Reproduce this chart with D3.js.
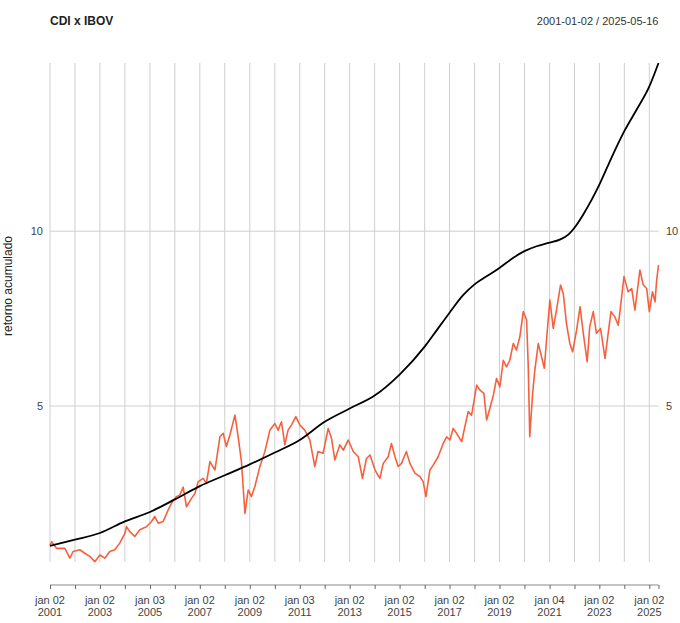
<!DOCTYPE html>
<html>
<head>
<meta charset="utf-8">
<script src="https://cdn.jsdelivr.net/npm/d3@7"></script>
<style>
  body { margin: 0; background: #fff; }
  text { font-family: "Liberation Sans", Arial, sans-serif; }
</style>
</head>
<body>
<script>
// CDI - smooth accumulated return
var cdiDates = ["2001-01-02","2002-01-02","2003-01-02","2004-01-02","2005-01-03","2006-01-02",
  "2007-01-02","2008-01-02","2009-01-02","2010-01-04","2011-01-03","2012-01-02","2013-01-02",
  "2014-01-02","2015-01-02","2016-01-04","2016-05-08","2017-01-02","2017-07-19","2018-01-02",
  "2018-06-28","2019-01-02","2019-07-23","2020-01-02","2020-06-28","2021-01-04","2021-06-02",
  "2021-10-05","2022-01-03","2022-05-12","2023-01-02","2023-06-28","2024-01-02","2024-07-01",
  "2025-01-02","2025-05-16"]
var cdiValues = [1.00,1.18,1.37,1.70,1.97,2.33,
  2.71,3.02,3.33,3.67,4.03,4.55,4.93,
  5.30,5.90,6.70,7.03,7.67,8.17,8.48,
  8.71,8.95,9.24,9.43,9.57,9.67,9.76,
  9.90,10.10,10.48,11.33,12.10,12.86,13.48,
  14.14,14.81]

// IBOV - accumulated return
var ibovDates = ["2001-01-02","2001-01-26","2001-04-08","2001-08-08","2001-10-19","2001-12-06",
  "2002-03-14","2002-05-26","2002-08-07","2002-10-19","2003-01-02","2003-03-14","2003-05-26",
  "2003-08-07","2003-10-19","2004-01-02","2004-01-26","2004-03-14","2004-05-26","2004-08-07",
  "2004-11-13","2005-01-26","2005-03-14","2005-05-04","2005-07-16","2005-09-27","2005-11-13",
  "2006-01-26","2006-03-17","2006-05-04","2006-06-21","2006-09-02","2006-10-23","2006-12-10",
  "2007-02-20","2007-04-08","2007-05-30","2007-08-11","2007-10-23","2007-12-10","2008-01-26",
  "2008-03-17","2008-05-30","2008-07-16","2008-09-02","2008-10-23","2008-12-10","2009-01-26",
  "2009-03-17","2009-05-30","2009-08-11","2009-10-23","2010-01-04","2010-02-20","2010-04-11",
  "2010-05-30","2010-07-16","2010-09-05","2010-11-06","2011-01-04","2011-03-17","2011-05-30",
  "2011-08-11","2011-09-27","2011-12-10","2012-02-23","2012-04-11","2012-05-30","2012-08-11",
  "2012-10-01","2012-12-13","2013-02-23","2013-05-08","2013-07-08","2013-09-05","2013-10-27",
  "2014-01-08","2014-03-20","2014-05-08","2014-07-19","2014-09-05","2014-10-27","2014-12-13",
  "2015-01-30","2015-04-11","2015-06-02","2015-08-14","2015-10-27","2015-12-13","2016-01-23",
  "2016-03-20","2016-05-08","2016-07-19","2016-10-01","2016-11-20","2017-01-08","2017-02-23",
  "2017-04-15","2017-06-28","2017-08-14","2017-10-01","2017-11-20","2018-02-03","2018-03-20",
  "2018-05-19","2018-06-28","2018-08-14","2018-10-05","2018-11-20","2019-01-08","2019-02-27",
  "2019-04-15","2019-06-02","2019-07-23","2019-09-08","2019-10-27","2019-12-16","2020-02-03",
  "2020-02-27","2020-03-20","2020-05-01","2020-06-02","2020-07-23","2020-09-08","2020-10-19",
  "2020-11-20","2021-01-08","2021-02-27","2021-04-15","2021-06-13","2021-07-23","2021-09-08",
  "2021-10-27","2021-12-06","2022-02-03","2022-03-26","2022-05-12","2022-07-08","2022-08-14",
  "2022-10-05","2022-11-20","2023-01-19","2023-03-26","2023-05-01","2023-06-21","2023-08-17",
  "2023-10-05","2023-10-30","2023-12-28","2024-02-27","2024-04-19","2024-06-05","2024-08-17",
  "2024-10-05","2024-11-24","2025-01-02","2025-02-17","2025-03-26","2025-04-19","2025-05-16"]
var ibovValues = [1.02,1.12,0.93,0.93,0.65,0.84,
  0.89,0.79,0.70,0.55,0.74,0.65,0.84,
  0.89,1.08,1.36,1.55,1.41,1.27,1.46,
  1.55,1.70,1.84,1.65,1.70,2.03,2.22,
  2.41,2.46,2.68,2.12,2.36,2.50,2.84,
  2.93,2.79,3.41,3.17,4.12,4.22,3.84,
  4.17,4.74,4.12,3.41,1.93,2.60,2.41,
  2.70,3.27,3.70,4.31,4.50,4.31,4.55,
  3.89,4.31,4.46,4.70,4.46,4.31,4.03,
  3.27,3.70,3.65,4.36,4.08,3.46,3.89,
  3.74,4.03,3.70,3.55,2.93,3.50,3.60,
  3.17,2.93,3.36,3.55,3.93,3.55,3.27,
  3.36,3.70,3.36,3.08,2.98,2.84,2.41,
  3.17,3.31,3.55,3.93,4.12,4.03,4.36,
  4.22,3.98,4.41,4.84,4.74,5.60,5.46,
  5.36,4.60,4.93,5.31,5.79,5.55,6.31,
  6.12,6.31,6.79,6.60,6.98,7.70,7.46,
  6.12,4.12,5.36,6.03,6.79,6.41,6.08,
  6.89,8.03,7.22,7.74,8.46,8.22,7.36,
  6.79,6.55,7.17,7.84,7.08,6.27,7.27,
  7.70,7.08,7.22,6.36,6.93,7.70,7.55,
  7.31,7.70,8.70,8.27,8.36,7.74,8.89,
  8.46,8.36,7.70,8.27,7.98,8.60,9.03]

// x axis ticks (first trading day of each year) and y ticks
var tickDates = ["2001-01-02","2002-01-02","2003-01-02","2004-01-02","2005-01-03","2006-01-02",
  "2007-01-02","2008-01-02","2009-01-02","2010-01-04","2011-01-03","2012-01-02","2013-01-02",
  "2014-01-02","2015-01-02","2016-01-04","2017-01-02","2018-01-02","2019-01-02","2020-01-02",
  "2021-01-04","2022-01-03","2023-01-02","2024-01-02","2025-01-02"]
var yTicks = [5, 10]

var parse = d3.timeParse("%Y-%m-%d")
var ptBR = d3.timeFormatLocale({
  dateTime: "%d/%m/%Y %H:%M:%S", date: "%d/%m/%Y", time: "%H:%M:%S",
  periods: ["AM","PM"],
  days: ["domingo","segunda","terça","quarta","quinta","sexta","sábado"],
  shortDays: ["dom","seg","ter","qua","qui","sex","sáb"],
  months: ["janeiro","fevereiro","março","abril","maio","junho","julho","agosto","setembro","outubro","novembro","dezembro"],
  shortMonths: ["jan","fev","mar","abr","mai","jun","jul","ago","set","out","nov","dez"]
})
var fmtTop = ptBR.format("%b %d")
var fmtYear = ptBR.format("%Y")

var cdi = cdiDates.map(function(d, i) { return {date: parse(d), value: cdiValues[i]} })
var ibov = ibovDates.map(function(d, i) { return {date: parse(d), value: ibovValues[i]} })
var ticks = tickDates.map(parse)
var startDate = parse("2001-01-02"), endDate = parse("2025-05-16")

var W = 680, H = 623
var pLeft = 50, pRight = 658.5, pTop = 63, pBottom = 562

var svg = d3.select("body").append("svg")
  .attr("width", W)
  .attr("height", H)

var x = d3.scaleTime().domain([startDate, endDate]).range([pLeft, pRight])
var all = cdi.concat(ibov)
var y = d3.scaleLinear()
  .domain([d3.min(all, function(d) { return d.value }) - 0.01, d3.max(all, function(d) { return d.value })])
  .range([pBottom, pTop])

// grid
svg.append("g").selectAll("line")
  .data(ticks).enter()
  .append("line")
  .attr("x1", function(d) { return x(d) }).attr("x2", function(d) { return x(d) })
  .attr("y1", pTop).attr("y2", pBottom)
  .attr("stroke", "#cfcfcf").attr("stroke-width", 1)

svg.append("g").selectAll("line")
  .data(yTicks).enter()
  .append("line")
  .attr("x1", pLeft).attr("x2", pRight)
  .attr("y1", function(d) { return y(d) }).attr("y2", function(d) { return y(d) })
  .attr("stroke", "#cfcfcf").attr("stroke-width", 1)

// y labels both sides
svg.append("g").selectAll("text")
  .data(yTicks).enter()
  .append("text")
  .attr("x", 43).attr("y", function(d) { return y(d) + 4 })
  .attr("text-anchor", "end")
  .attr("font-size", "11px").attr("fill", "#444")
  .text(function(d) { return d })

svg.append("g").selectAll("text")
  .data(yTicks).enter()
  .append("text")
  .attr("x", 666).attr("y", function(d) { return y(d) + 4 })
  .attr("font-size", "11px").attr("fill", "#444")
  .text(function(d) { return d })

svg.append("text")
  .attr("transform", "translate(12,286) rotate(-90)")
  .attr("text-anchor", "middle")
  .attr("font-size", "12px").attr("fill", "#222")
  .text("retorno acumulado")

// x axis
var xAxis = d3.axisBottom(x)
  .tickValues(ticks.concat([endDate]))
  .tickSize(4)
  .tickFormat("")
var gx = svg.append("g").attr("transform", "translate(0,585)").call(xAxis)
gx.select(".domain").attr("stroke", "#888").attr("d", "M" + pLeft + ",0H" + pRight)
gx.selectAll(".tick line").attr("stroke", "#666")

var labelTicks = ticks.filter(function(d, i) { return i % 2 == 0 })
var lab = svg.append("g").selectAll("text")
  .data(labelTicks).enter()
  .append("text")
  .attr("text-anchor", "middle")
  .attr("font-size", "11px").attr("fill", "#444")
lab.append("tspan").attr("x", function(d) { return x(d) }).attr("y", 604).text(function(d) { return fmtTop(d) })
lab.append("tspan").attr("x", function(d) { return x(d) }).attr("y", 616).text(function(d) { return fmtYear(d) })

// series
var line = d3.line()
  .x(function(d) { return x(d.date) })
  .y(function(d) { return y(d.value) })

svg.append("path")
  .datum(ibov)
  .attr("d", line)
  .attr("fill", "none")
  .attr("stroke", "#f7603f")
  .attr("stroke-width", 1.6)
  .attr("stroke-linejoin", "round")

svg.append("path")
  .datum(cdi)
  .attr("d", line.curve(d3.curveMonotoneX))
  .attr("fill", "none")
  .attr("stroke", "#000")
  .attr("stroke-width", 1.8)

// titles
svg.append("text")
  .attr("x", 50).attr("y", 25)
  .attr("font-size", "12px").attr("font-weight", "bold").attr("fill", "#222")
  .text("CDI x IBOV")

svg.append("text")
  .attr("x", pRight).attr("y", 25)
  .attr("text-anchor", "end")
  .attr("font-size", "11px").attr("fill", "#333")
  .text("2001-01-02 / 2025-05-16")
</script>
</body>
</html>
